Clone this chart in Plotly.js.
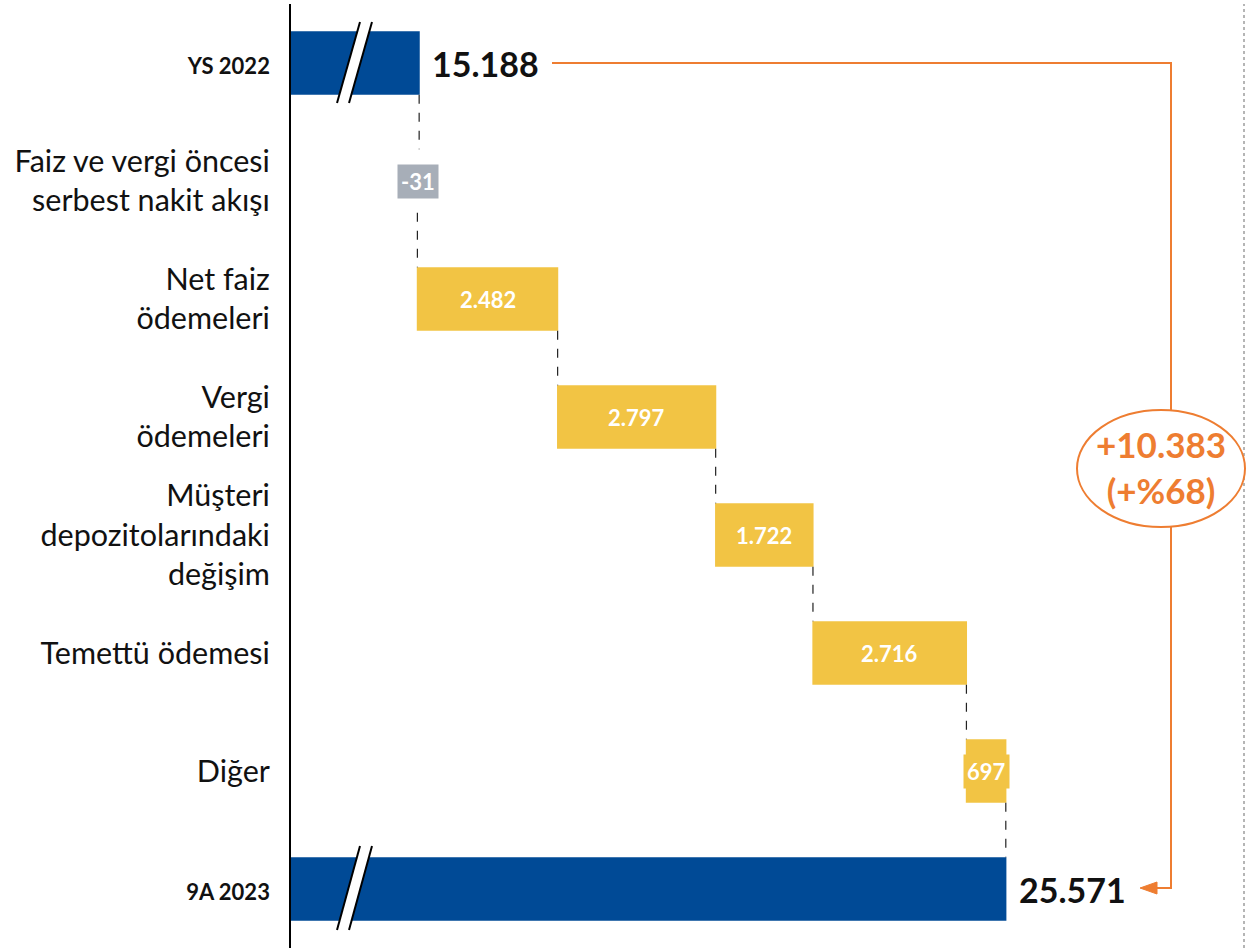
<!DOCTYPE html>
<html>
<head>
<meta charset="utf-8">
<script src="https://cdn.plot.ly/plotly-3.0.1.min.js"></script>
<style>html,body{margin:0;padding:0;background:#fff;}#chart{width:1260px;height:948px;}</style>
</head>
<body>
<div id="chart"></div>
<script>
// ---- data ----
const categories = ["YS 2022", "Faiz ve vergi öncesi<br>serbest nakit akışı", "Net faiz<br>ödemeleri", "Vergi<br>ödemeleri", "Müşteri<br>depozitolarındaki<br>değişim", "Temettü ödemesi", "Diğer", "9A 2023"];
const values = [15188, -31, 2482, 2797, 1722, 2716, 697, 25571];
const measures = ["absolute", "relative", "relative", "relative", "relative", "relative", "relative", "total"];
const boldCats = ["YS 2022", "9A 2023"];

// ---- helpers ----
const W = 1260, H = 948, L = 291, R = 0, T = 4, B = 0;
const PW = W - L - R, PH = H - T - B;
const px = p => (p - L) / PW;
const py = p => (H - B - p) / PH;
const fmt = v => (v < 0 ? "-" : "") + String(Math.abs(v)).replace(/\B(?=(\d{3})+(?!\d))/g, ".");

const BLUE = "#004A96", YELLOW = "#F2C444", GRAY = "#A7AEB8", ORANGE = "#EE7D31";

const ticktext = categories.map(c => boldCats.includes(c)
  ? '<span style="font-size:22px;font-weight:bold">' + c + '</span>' : c);

const trace = {
  type: "waterfall",
  orientation: "h",
  y: categories,
  x: values,
  measure: measures,
  textposition: "none",
  hoverinfo: "none",
  increasing: {marker: {color: YELLOW}},
  decreasing: {marker: {color: "rgba(0,0,0,0)"}},
  totals: {marker: {color: BLUE}},
  connector: {mode: "between", line: {color: "#222", width: 1.2, dash: "dash"}}
};

// labels
const annotations = [];
let cum = 0;
values.forEach((v, i) => {
  const m = measures[i];
  if (m === "absolute" || m === "total") {
    cum = v;
    annotations.push({x: v, y: categories[i], xref: "x", yref: "y", text: "<b>" + fmt(v) + "</b>",
      showarrow: false, xanchor: "left", yanchor: "middle", xshift: 11, font: {family: "Lato", size: 34, color: "#111"}});
  } else {
    const mid = cum + v / 2;
    cum += v;
    let bg = null;
    if (v < 0) bg = GRAY;
    else if (Math.abs(v) < 1000) bg = YELLOW;
    annotations.push({x: mid, y: categories[i], xref: "x", yref: "y", text: "<b>" + fmt(v) + "</b>",
      showarrow: false, xanchor: "center", yanchor: "middle", font: {family: "Lato", size: 22, color: "#fff"},
      bgcolor: bg || "rgba(0,0,0,0)", borderpad: bg ? 3 : 0});
  }
});
const start = values[0], end = values[values.length - 1];
const diff = end - start, pct = Math.round(diff / start * 100);
annotations.push({xref: "paper", yref: "paper", x: px(1161), y: py(467), xanchor: "center", yanchor: "middle",
  text: "<b>+" + fmt(diff) + "<br>(+%" + pct + ")</b>", showarrow: false,
  font: {family: "Lato", size: 35, color: ORANGE}});

// shapes
const shapes = [];
// dotted right line
shapes.push({type: "line", xref: "paper", yref: "paper", x0: px(1244), x1: px(1244), y0: 0, y1: 1,
  line: {color: "#b5b5b5", width: 2, dash: "dot"}, layer: "below"});
// orange bracket
shapes.push({type: "path", xref: "paper", yref: "paper", layer: "below",
  path: `M${px(552)},${py(63)} L${px(1171)},${py(63)} L${px(1171)},${py(888)} L${px(1156)},${py(888)}`,
  line: {color: ORANGE, width: 2}});
shapes.push({type: "path", xref: "paper", yref: "paper", layer: "below",
  path: `M${px(1140)},${py(888)} L${px(1157)},${py(882)} L${px(1157)},${py(894)} Z`,
  fillcolor: ORANGE, line: {color: ORANGE, width: 1}});
shapes.push({type: "circle", xref: "paper", yref: "paper", layer: "below", x0: px(1077), x1: px(1245), y0: py(527), y1: py(410),
  fillcolor: "#fff", line: {color: ORANGE, width: 2}});
// axis-break marks
[[22, 103], [846, 930]].forEach(([t, b]) => {
  const x0 = 337, x1 = 349, dx = 23;
  shapes.push({type: "path", xref: "paper", yref: "paper",
    path: `M${px(x0)},${py(b)} L${px(x1)},${py(b)} L${px(x1 + dx)},${py(t)} L${px(x0 + dx)},${py(t)} Z`,
    fillcolor: "#fff", line: {width: 0}});
  shapes.push({type: "line", xref: "paper", yref: "paper", x0: px(x0), y0: py(b), x1: px(x0 + dx), y1: py(t), line: {color: "#000", width: 2}});
  shapes.push({type: "line", xref: "paper", yref: "paper", x0: px(x1), y0: py(b), x1: px(x1 + dx), y1: py(t), line: {color: "#000", width: 2}});
});

const layout = {
  width: W, height: H,
  margin: {l: L, r: R, t: T, b: B},
  paper_bgcolor: "#fff", plot_bgcolor: "#fff",
  showlegend: false,
  waterfallgap: 0.46,
  font: {family: "Lato", color: "#111"},
  xaxis: {range: [12920, 30070], visible: false, showgrid: false, zeroline: false},
  yaxis: {type: "category", autorange: "reversed", tickvals: categories, ticktext: ticktext,
    showline: true, linecolor: "#000", linewidth: 2, ticks: "", showgrid: false, zeroline: false,
    ticklabelstandoff: 13, tickfont: {family: "Lato", size: 30.5, color: "#111"}},
  annotations: annotations,
  shapes: shapes
};

Plotly.newPlot("chart", [trace], layout, {staticPlot: true, displayModeBar: false});
</script>
</body>
</html>
